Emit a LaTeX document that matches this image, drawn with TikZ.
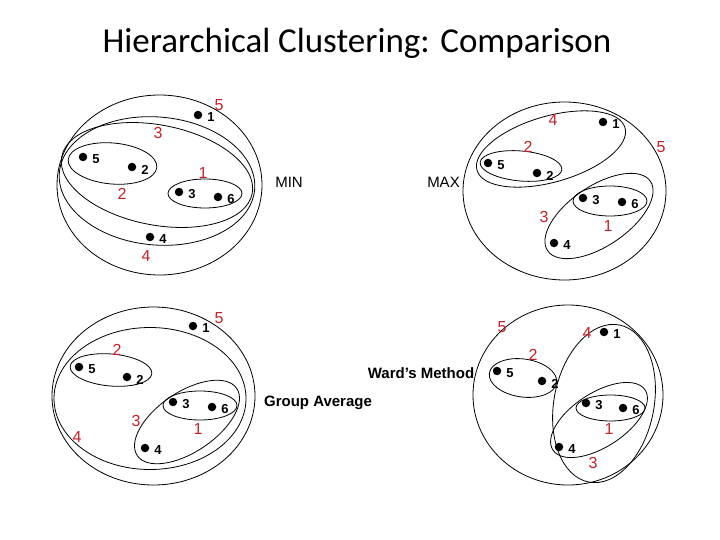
\documentclass[tikz,border=0pt]{standalone}
\usepackage{fontspec}
\setmainfont{Liberation Sans}
\newfontfamily\titlefont{Carlito}
\usetikzlibrary{positioning}
\definecolor{levelred}{HTML}{C8202A}
\tikzset{%
    dotpt/.style={circle, fill=black, inner sep=0pt, minimum size=8.5pt},
    num/.style={font=\fontsize{13}{15}\selectfont\bfseries, yshift=-2.5pt},
    lvl/.style={font=\fontsize{16}{18}\selectfont, text=levelred},
    meth/.style={font=\fontsize{15}{18}\selectfont},
    clus/.style={line width=0.8pt}
}

\begin{document}
\begin{tikzpicture}[x=1pt,y=-1pt]
        \useasboundingbox (0,0) rectangle (720,540);
        \node[anchor=base, font=\titlefont\fontsize{35}{40}\selectfont] (title) at (357,53) {Hierarchical Clustering: Comparison};

        \draw[clus] (159.5,185) ellipse [x radius=102.5pt, y radius=90pt];
        \draw[clus, shift={(157,181)}, rotate=-5] (0,0) ellipse [x radius=98pt, y radius=64pt];
        \draw[clus, shift={(157,175)}, rotate=-11] (0,0) ellipse [x radius=97pt, y radius=50pt];
        \draw[clus, shift={(112.5,163.5)}, rotate=-5] (0,0) ellipse [x radius=44.5pt, y radius=20.5pt];
        \draw[clus] (205,193.5) ellipse [x radius=37pt, y radius=14.5pt];
        \node[dotpt] (min1) at (198,115) {};
        \node[dotpt] (min2) at (132,167) {};
        \node[dotpt] (min3) at (179,192) {};
        \node[dotpt] (min4) at (150,237) {};
        \node[dotpt] (min5) at (83,157) {};
        \node[dotpt] (min6) at (218,197) {};
        \foreach \p in {1,...,6}
            \node[num, right=1.5pt of min\p] (min\p l) {\p};
        \node[lvl] (minlvla) at (203,173) {1};
        \node[lvl] (minlvlb) at (122,194) {2};
        \node[lvl] (minlvlc) at (158,133) {3};
        \node[lvl] (minlvld) at (146,256) {4};
        \node[lvl] (minlvle) at (219,105) {5};
        \node[meth] (minname) at (289,182.5) {MIN};

        \draw[clus] (564.5,191) ellipse [x radius=101.5pt, y radius=89pt];
        \draw[clus, shift={(551,149)}, rotate=16] (0,0) ellipse [x radius=77pt, y radius=33pt];
        \draw[clus, shift={(521,166)}, rotate=-5] (0,0) ellipse [x radius=41pt, y radius=15pt];
        \draw[clus, shift={(599,216)}, rotate=34] (0,0) ellipse [x radius=62pt, y radius=30pt];
        \draw[clus] (610,201) ellipse [x radius=37pt, y radius=15pt];
        \node[dotpt] (max1) at (603,122) {};
        \node[dotpt] (max2) at (537,173) {};
        \node[dotpt] (max3) at (583,198) {};
        \node[dotpt] (max4) at (554,243) {};
        \node[dotpt] (max5) at (488,163) {};
        \node[dotpt] (max6) at (622,202) {};
        \foreach \p in {1,...,6}
            \node[num, right=1.5pt of max\p] (max\p l) {\p};
        \node[lvl] (maxlvla) at (608,226) {1};
        \node[lvl] (maxlvlb) at (528,147) {2};
        \node[lvl] (maxlvlc) at (544,217) {3};
        \node[lvl] (maxlvld) at (553,120) {4};
        \node[lvl] (maxlvle) at (661,147) {5};
        \node[meth] (maxname) at (443.5,182.5) {MAX};

        \draw[clus] (153.5,396) ellipse [x radius=101.5pt, y radius=89pt];
        \draw[clus] (150,398.5) ellipse [x radius=96pt, y radius=71pt];
        \draw[clus, shift={(111,370)}, rotate=-5] (0,0) ellipse [x radius=41pt, y radius=16pt];
        \draw[clus, shift={(187,422)}, rotate=34] (0,0) ellipse [x radius=60pt, y radius=30pt];
        \draw[clus] (200,405.5) ellipse [x radius=37pt, y radius=14.5pt];
        \node[dotpt] (ga1) at (193,326) {};
        \node[dotpt] (ga2) at (127,377) {};
        \node[dotpt] (ga3) at (173,402) {};
        \node[dotpt] (ga4) at (145,448) {};
        \node[dotpt] (ga5) at (79,367) {};
        \node[dotpt] (ga6) at (212,407) {};
        \foreach \p in {1,...,6}
            \node[num, right=1.5pt of ga\p] (ga\p l) {\p};
        \node[lvl] (galvla) at (198,429) {1};
        \node[lvl] (galvlb) at (117,350) {2};
        \node[lvl] (galvlc) at (136,421) {3};
        \node[lvl] (galvld) at (77,437) {4};
        \node[lvl] (galvle) at (219,318) {5};
        \node[meth, font=\fontsize{15}{18}\selectfont\bfseries] (ganame) at (318,403) {Group Average};

        \draw[clus] (568,395) ellipse [x radius=95pt, y radius=90pt];
        \draw[clus, shift={(604,403.5)}, rotate=-11] (0,0) ellipse [x radius=50pt, y radius=80pt];
        \draw[clus, shift={(523,378)}, rotate=-8] (0,0) ellipse [x radius=34pt, y radius=19pt];
        \draw[clus, shift={(599,420)}, rotate=33] (0,0) ellipse [x radius=55pt, y radius=27pt];
        \draw[clus] (610.5,408) ellipse [x radius=34.5pt, y radius=13pt];
        \node[dotpt] (wd1) at (604,332) {};
        \node[dotpt] (wd2) at (542,381) {};
        \node[dotpt] (wd3) at (586,403) {};
        \node[dotpt] (wd4) at (559,447) {};
        \node[dotpt] (wd5) at (497,371) {};
        \node[dotpt] (wd6) at (623,408) {};
        \foreach \p in {1,...,6}
            \node[num, right=1.5pt of wd\p] (wd\p l) {\p};
        \node[lvl] (wdlvla) at (609,429) {1};
        \node[lvl] (wdlvlb) at (533,355) {2};
        \node[lvl] (wdlvlc) at (593,463) {3};
        \node[lvl] (wdlvld) at (587,333) {4};
        \node[lvl] (wdlvle) at (502,327) {5};
        \node[meth, font=\fontsize{15}{18}\selectfont\bfseries] (wdname) at (421,373) {Ward’s Method};
    \end{tikzpicture}
\end{document}
